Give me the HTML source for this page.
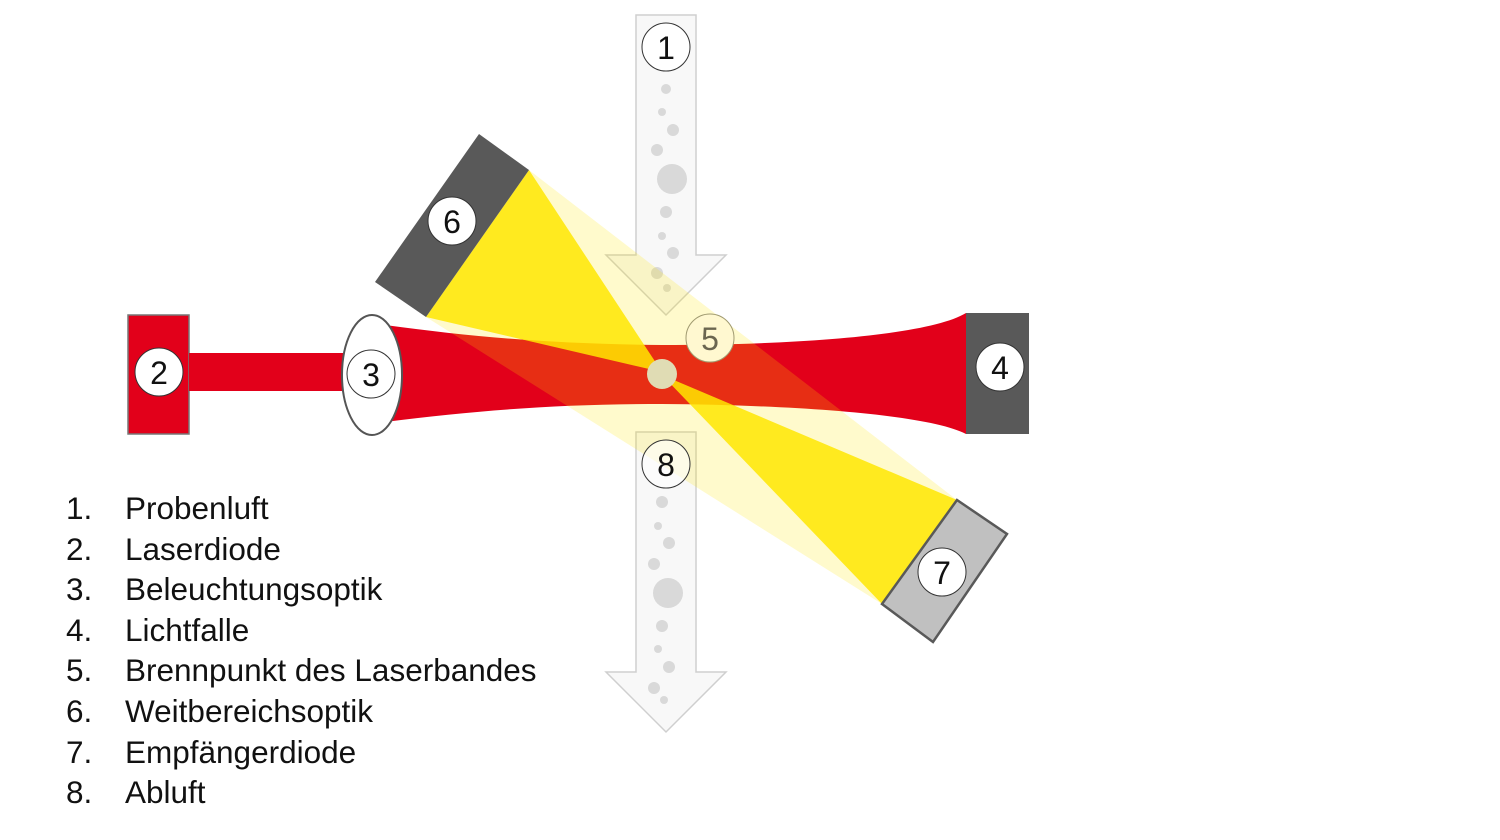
<!DOCTYPE html>
<html><head><meta charset="utf-8"><style>
html,body{margin:0;padding:0;background:#fff;width:1500px;height:840px;overflow:hidden}
svg{display:block}
.t{font-family:"Liberation Sans",sans-serif;font-size:31.5px;fill:#111}
.n{font-family:"Liberation Sans",sans-serif;font-size:32px;fill:#111;text-anchor:middle}
</style></head><body>
<svg width="1500" height="840" viewBox="0 0 1500 840">
<!-- arrows -->
<path d="M636,15 H696 V255 H726 L666,315 L606,255 H636 Z" fill="#f8f8f8" stroke="#cfcfcf" stroke-width="1.5"/>
<path d="M636,432 H696 V672 H726 L666,732 L606,672 H636 Z" fill="#f8f8f8" stroke="#cfcfcf" stroke-width="1.5"/>
<g fill="#d9d9d9">
<circle cx="666" cy="89" r="5"/><circle cx="662" cy="112" r="4"/><circle cx="673" cy="130" r="6"/><circle cx="657" cy="150" r="6"/><circle cx="672" cy="179" r="15"/><circle cx="666" cy="212" r="6"/><circle cx="662" cy="236" r="4"/><circle cx="673" cy="253" r="6"/><circle cx="657" cy="273" r="6"/><circle cx="667" cy="288" r="4"/>
<circle cx="662" cy="502" r="6"/><circle cx="658" cy="526" r="4"/><circle cx="669" cy="543" r="6"/><circle cx="654" cy="564" r="6"/><circle cx="668" cy="593" r="15"/><circle cx="662" cy="626" r="6"/><circle cx="658" cy="649" r="4"/><circle cx="669" cy="667" r="6"/><circle cx="654" cy="688" r="6"/><circle cx="664" cy="700" r="4"/>
</g>
<!-- laser -->
<rect x="128" y="315" width="61" height="119" fill="#e2001a" stroke="#777" stroke-width="1.5"/>
<rect x="189" y="353" width="158" height="38" fill="#e2001a"/>
<path d="M385,325 C480,338 560,344 662,345 C800,345 930,335 966,313 V434 C930,415 800,405 662,404 C560,404 480,410 385,422 Z" fill="#e2001a"/>
<!-- yellow -->
<polygon points="529,170 957,500 882,604 426,317" fill="#ffe600" fill-opacity="0.2"/>
<polygon points="529,170 426,317 662,372" fill="#ffe600" fill-opacity="0.85"/>
<polygon points="662,375 957,500 882,604" fill="#ffe600" fill-opacity="0.85"/>
<!-- boxes -->
<polygon points="479,134 529,170 426,317 375,282" fill="#595959"/>
<rect x="966" y="313" width="63" height="121" fill="#595959"/>
<polygon points="957,500 1007,534 933,642 882,604" fill="#c0c0c0" stroke="#595959" stroke-width="2.5"/>
<ellipse cx="372" cy="375" rx="30" ry="60" fill="#fff" stroke="#555" stroke-width="2"/>
<circle cx="662" cy="374" r="15" fill="#e0dcb4"/>
<!-- labels -->
<g stroke="#333" stroke-width="1" fill="#fff">
<circle cx="666" cy="47" r="24"/><circle cx="159" cy="372" r="24"/><circle cx="371" cy="374" r="24"/><circle cx="1000" cy="367" r="24"/><circle cx="452" cy="221" r="24"/><circle cx="942" cy="572" r="24"/><circle cx="666" cy="464" r="24" fill-opacity="0.6"/>
<circle cx="710" cy="338" r="24" fill="#fff8d0" stroke="#a09a70"/>
</g>
<text class="n" x="666" y="59">1</text>
<text class="n" x="159" y="384">2</text>
<text class="n" x="371" y="386">3</text>
<text class="n" x="1000" y="379">4</text>
<text class="n" x="710" y="350" style="fill:#6b6650">5</text>
<text class="n" x="452" y="233">6</text>
<text class="n" x="942" y="584">7</text>
<text class="n" x="666" y="476">8</text>
<!-- legend -->
<g class="t">
<text x="66" y="519">1.</text><text x="125" y="519">Probenluft</text>
<text x="66" y="560">2.</text><text x="125" y="560">Laserdiode</text>
<text x="66" y="600">3.</text><text x="125" y="600">Beleuchtungsoptik</text>
<text x="66" y="641">4.</text><text x="125" y="641">Lichtfalle</text>
<text x="66" y="681">5.</text><text x="125" y="681">Brennpunkt des Laserbandes</text>
<text x="66" y="722">6.</text><text x="125" y="722">Weitbereichsoptik</text>
<text x="66" y="763">7.</text><text x="125" y="763">Empfängerdiode</text>
<text x="66" y="803">8.</text><text x="125" y="803">Abluft</text>
</g>
</svg>
</body></html>
